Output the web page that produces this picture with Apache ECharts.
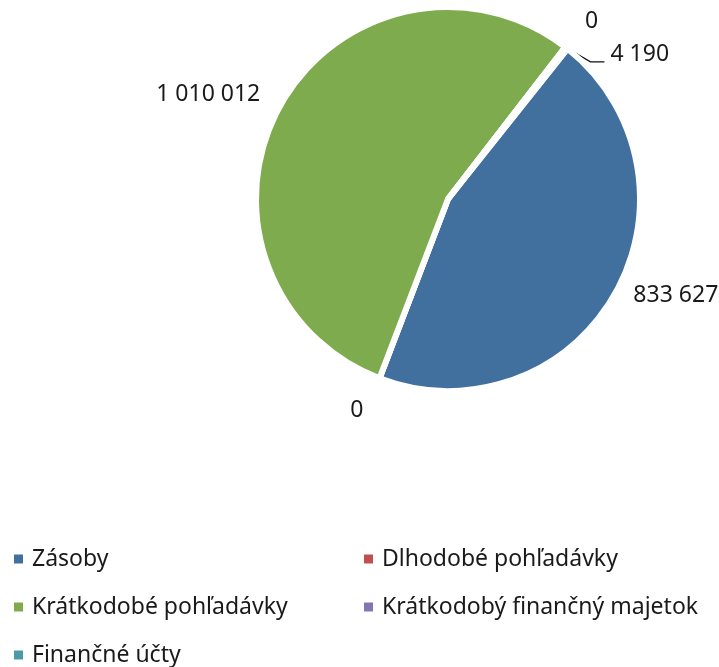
<!DOCTYPE html>
<html>
<head>
<meta charset="utf-8">
<script src="https://cdn.jsdelivr.net/npm/echarts@6/dist/echarts.min.js"></script>
<style>
html,body{margin:0;padding:0;background:#fff;}
#chart{width:719px;height:667px;}
</style>
</head>
<body>
<div id="chart"></div>
<script>
var categories = ['Zásoby', 'Dlhodobé pohľadávky', 'Krátkodobé pohľadávky', 'Krátkodobý finančný majetok', 'Finančné účty'];
var values = [833627, 0, 1010012, 0, 4190];
var colors = ['#41709f', '#c0504d', '#7fab4f', '#8474b0', '#4a9ba5'];
var legendLeft = ['Zásoby', 'Krátkodobé pohľadávky', 'Finančné účty'];
var legendRight = ['Dlhodobé pohľadávky', 'Krátkodobý finančný majetok'];

function fmt(v) {
  return String(v).replace(/\B(?=(\d{3})+(?!\d))/g, ' ');
}

var labelCfg = [
  { length: 3, length2: 12, show: false, dist: 4 },
  { length: 34, length2: 0, show: false, dist: 4 },
  { length: 21, length2: 0, show: false, dist: 2 },
  { length: 32, length2: 0, show: false, dist: 0 },
  { length: 10, length2: 20, show: true, dist: 4 }
];

var data = categories.map(function (c, i) {
  var lc = labelCfg[i];
  return {
    name: c,
    value: values[i],
    itemStyle: { color: colors[i] },
    label: { distanceToLabelLine: lc.dist },
    labelLine: { show: lc.show, length: lc.length, length2: lc.length2, lineStyle: { color: '#111', width: 1.2 } }
  };
});

var chart = echarts.init(document.getElementById('chart'));
var legendText = { fontSize: 23, color: '#1a1a1a', fontFamily: 'Noto Sans', lineHeight: 24, padding: [0, 0, 0, 3] };
chart.setOption({
  animation: false,
  color: colors,
  legend: [
    { data: legendLeft, orient: 'vertical', left: 12, top: 547, height: 120, padding: 0, itemWidth: 11, itemHeight: 11, itemGap: 24, icon: 'rect', textStyle: legendText, selectedMode: false },
    { data: legendRight, orient: 'vertical', left: 362, top: 547, height: 120, padding: 0, itemWidth: 11, itemHeight: 11, itemGap: 24, icon: 'rect', textStyle: legendText, selectedMode: false }
  ],
  series: [{
    type: 'pie',
    center: [448, 199],
    radius: 192,
    startAngle: 51.5,
    clockwise: true,
    avoidLabelOverlap: false,
    stillShowZeroSum: true,
    itemStyle: { borderColor: '#fff', borderWidth: 6 },
    label: {
      show: true,
      position: 'outside',
      fontSize: 23,
      fontFamily: 'Noto Sans',
      color: '#1a1a1a',
      formatter: function (p) { return fmt(p.value); }
    },
    labelLayout: function (p) {
      if (p.dataIndex !== 4 || !p.labelLinePoints) return {};
      var s = p.labelLinePoints[0];
      return {
        x: s[0] + 44,
        y: s[1] + 7,
        align: 'left',
        verticalAlign: 'middle',
        labelLinePoints: [s, [s[0] + 24, s[1] + 14], [s[0] + 38, s[1] + 14]]
      };
    },
    emphasis: { disabled: true },
    data: data
  }]
});
</script>
</body>
</html>
